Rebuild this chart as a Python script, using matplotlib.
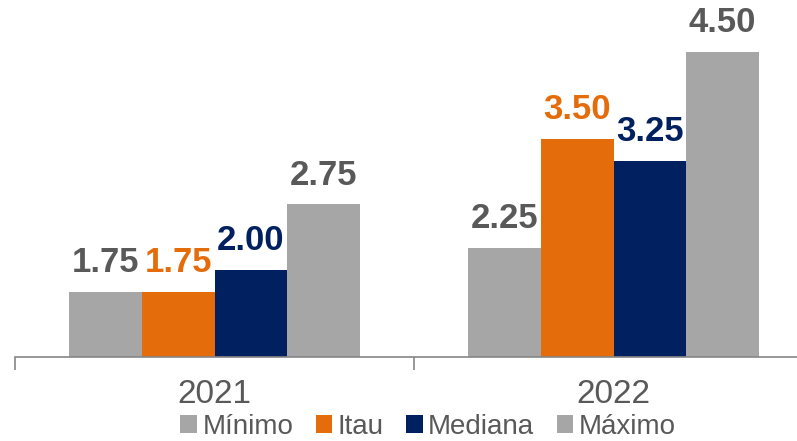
import matplotlib.pyplot as plt
import numpy as np

plt.rcParams['font.family'] = ['Liberation Sans', 'DejaVu Sans']

# Data
years = ['2021', '2022']
series = ['Mínimo', 'Itau', 'Mediana', 'Máximo']
minimo = [1.75, 2.25]
itau = [1.75, 3.50]
mediana = [2.00, 3.25]
maximo = [2.75, 4.50]

values = [minimo, itau, mediana, maximo]
bar_colors = ['#A6A6A6', '#E46C0A', '#002060', '#A6A6A6']
label_colors = ['#595959', '#E46C0A', '#002060', '#595959']

fig = plt.figure(figsize=(7.97, 4.41), dpi=100)
ax = fig.add_axes([15 / 797, 84 / 441, 798 / 797, 349 / 441])

x = np.arange(len(years))
w = 0.182
offsets = np.array([-1.5, -0.5, 0.5, 1.5]) * w

for vals, name, bc, lc, off in zip(values, series, bar_colors, label_colors, offsets):
    bars = ax.bar(x + off, vals, width=w, color=bc, label=name)
    for rect, v in zip(bars, vals):
        ax.annotate(f'{v:.2f}', (rect.get_x() + rect.get_width() / 2, v),
                    xytext=(0, 9), textcoords='offset points',
                    ha='center', va='bottom', fontsize=25, fontweight='bold',
                    color=lc)

ax.set_xlim(-0.5, 1.5)
ax.set_ylim(1.0, 5.0)

# spines / ticks
for s in ['top', 'right', 'left']:
    ax.spines[s].set_visible(False)
ax.spines['bottom'].set_color('#868686')
ax.spines['bottom'].set_linewidth(1.2)
ax.set_yticks([])
ax.set_xticks([-0.5, 0.5, 1.5])
ax.set_xticklabels([])
ax.tick_params(axis='x', which='major', length=9, width=1.2, color='#868686')
ax.set_xticks(x, minor=True)
ax.set_xticklabels(years, minor=True)
ax.tick_params(axis='x', which='minor', length=0, pad=16, labelsize=24,
               labelcolor='#595959')

fig.legend(loc='center', bbox_to_anchor=(428 / 797, 1 - 427 / 441), ncol=4,
           frameon=False, fontsize=20, handlelength=0.6, handleheight=0.6,
           handletextpad=0.2, columnspacing=0.8, labelcolor='#595959',
           borderpad=0.1)

fig.savefig('out.png', dpi=100)
